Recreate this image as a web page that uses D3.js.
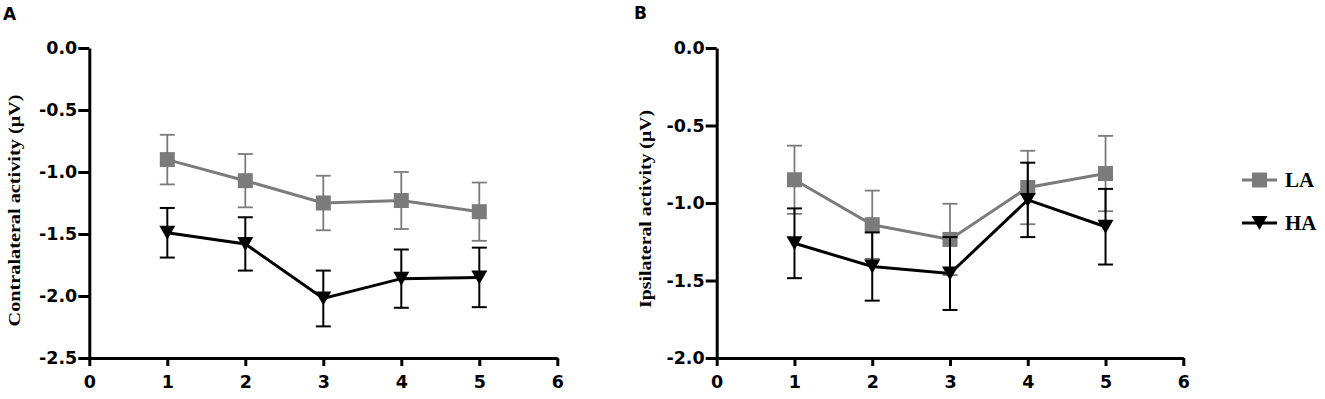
<!DOCTYPE html>
<html>
<head>
<meta charset="utf-8">
<script src="https://cdn.jsdelivr.net/npm/d3@7"></script>
<style>
html,body{margin:0;padding:0;background:#fff;}
svg{display:block;}
</style>
</head>
<body>
<svg id="chart" width="1325" height="399"></svg>
<script>
// ---- data ----
const sessions = [1, 2, 3, 4, 5];
const xTicks = [0, 1, 2, 3, 4, 5, 6];
const seriesNames = ["LA", "HA"];

// Panel A: contralateral activity
const contraLA = [-0.90, -1.07, -1.25, -1.23, -1.32];
const contraLAerr = [0.20, 0.215, 0.22, 0.23, 0.235];
const contraHA = [-1.49, -1.58, -2.02, -1.86, -1.85];
const contraHAerr = [0.20, 0.215, 0.225, 0.235, 0.24];
const contraTicks = [0, -0.5, -1.0, -1.5, -2.0, -2.5];

// Panel B: ipsilateral activity
const ipsiLA = [-0.85, -1.14, -1.235, -0.90, -0.81];
const ipsiLAerr = [0.22, 0.22, 0.23, 0.237, 0.243];
const ipsiHA = [-1.26, -1.41, -1.455, -0.98, -1.153];
const ipsiHAerr = [0.225, 0.22, 0.235, 0.24, 0.244];
const ipsiTicks = [0, -0.5, -1.0, -1.5, -2.0];

// ---- styles ----
const colLA = "#7b7b7b";
const colHA = "#000000";
const sans = "'DejaVu Sans', 'Liberation Sans', Arial, sans-serif";
const serif = "'Liberation Serif', 'Times New Roman', serif";
const svg = d3.select("#chart");

function panel(opts) {
  const x = d3.scaleLinear().domain([0, 6]).range([opts.x0, opts.x1]);
  const y = d3.scaleLinear().domain([opts.ymin, 0]).range([358, 48]);
  const g = svg.append("g");

  const fmt = d => (Math.abs(d) < 1e-9 ? "0.0" : d.toFixed(1));

  const ya = g.append("g").attr("transform", `translate(${opts.x0},0)`)
    .call(d3.axisLeft(y).tickValues(opts.yTicks).tickFormat(fmt).tickSize(11).tickPadding(1).tickSizeOuter(0));
  const xa = g.append("g").attr("transform", `translate(0,358)`)
    .call(d3.axisBottom(x).tickValues(xTicks).tickFormat(d3.format("d")).tickSize(8).tickPadding(10).tickSizeOuter(0));
  [ya, xa].forEach(a => {
    a.select(".domain").attr("stroke", "#000").attr("stroke-width", 3);
    a.selectAll(".tick line").attr("stroke", "#000").attr("stroke-width", 3);
    a.selectAll("text").attr("fill", "#000")
      .style("font-family", sans)
      .style("font-weight", "bold").style("font-size", "17.5px");
  });

  // y label
  g.append("text")
    .attr("transform", `translate(${opts.labelX},${opts.labelY}) rotate(-90)`)
    .attr("text-anchor", "middle")
    .attr("textLength", opts.labelLen).attr("lengthAdjust", "spacingAndGlyphs")
    .style("font-family", serif)
    .style("font-weight", "bold").style("font-size", "16.5px")
    .text(opts.ylabel);

  // panel letter
  g.append("text").attr("x", opts.letterX).attr("y", opts.letterY)
    .style("font-family", sans)
    .style("font-weight", "bold").style("font-size", "17px")
    .text(opts.letter);

  const series = [
    {name: "LA", vals: opts.la, err: opts.laErr, col: colLA, lw: 3, ew: 1.8},
    {name: "HA", vals: opts.ha, err: opts.haErr, col: colHA, lw: 3, ew: 2}
  ];
  series.forEach(s => {
    const pts = sessions.map((d, i) => ({x: d, v: s.vals[i], e: s.err[i]}));
    const eg = g.append("g");
    pts.forEach(p => {
      eg.append("line").attr("x1", x(p.x)).attr("x2", x(p.x))
        .attr("y1", y(p.v + p.e)).attr("y2", y(p.v - p.e))
        .attr("stroke", s.col).attr("stroke-width", s.ew);
      [p.v + p.e, p.v - p.e].forEach(vv => {
        eg.append("line").attr("x1", x(p.x) - 7.5).attr("x2", x(p.x) + 7.5)
          .attr("y1", y(vv)).attr("y2", y(vv))
          .attr("stroke", s.col).attr("stroke-width", s.ew);
      });
    });
    g.append("path").datum(pts)
      .attr("d", d3.line().x(p => x(p.x)).y(p => y(p.v)))
      .attr("fill", "none").attr("stroke", s.col).attr("stroke-width", s.lw);
    pts.forEach(p => drawMarker(g, s.name, x(p.x), y(p.v)));
  });
}

function drawMarker(g, name, cx, cy) {
  if (name === "LA") {
    g.append("rect").attr("x", cx - 7.5).attr("y", cy - 7.5)
      .attr("width", 15).attr("height", 15).attr("fill", colLA);
  } else {
    g.append("path")
      .attr("d", `M${cx - 8},${cy - 7} L${cx + 8},${cy - 7} L${cx},${cy + 7} Z`)
      .attr("fill", colHA);
  }
}

panel({x0: 89.3, x1: 557.3, ymin: -2.5, yTicks: contraTicks,
  la: contraLA, laErr: contraLAerr, ha: contraHA, haErr: contraHAerr,
  ylabel: "Contralateral activity  (\u03bcV)", labelX: 20, labelY: 210.5, labelLen: 232,
  letter: "A", letterX: 3, letterY: 20});
panel({x0: 716.7, x1: 1183.3, ymin: -2.0, yTicks: ipsiTicks,
  la: ipsiLA, laErr: ipsiLAerr, ha: ipsiHA, haErr: ipsiHAerr,
  ylabel: "Ipsilateral activity  (\u03bcV)", labelX: 651, labelY: 209, labelLen: 198,
  letter: "B", letterX: 634, letterY: 18.5});

// legend
const legY = [180, 223];
seriesNames.forEach((n, i) => {
  const lg = svg.append("g");
  lg.append("line").attr("x1", 1242).attr("x2", 1277).attr("y1", legY[i]).attr("y2", legY[i])
    .attr("stroke", n === "LA" ? colLA : colHA).attr("stroke-width", 3);
  drawMarker(lg, n, 1259.5, legY[i]);
  lg.append("text").attr("x", 1285).attr("y", legY[i]).attr("dy", "0.35em")
    .style("font-family", serif)
    .style("font-weight", "bold").style("font-size", "21px")
    .text(n);
});
</script>
</body>
</html>
